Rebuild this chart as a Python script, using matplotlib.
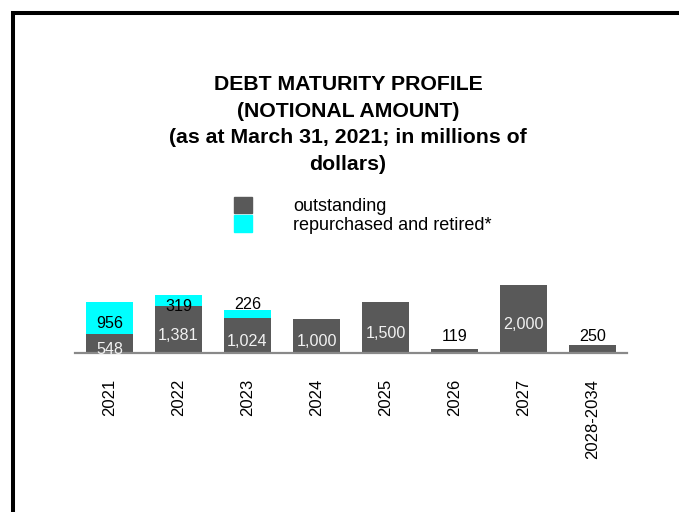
import matplotlib.pyplot as plt
from matplotlib.patches import Patch, Rectangle

plt.rcParams['font.family'] = ['Liberation Sans', 'DejaVu Sans']

years = ['2021', '2022', '2023', '2024', '2025', '2026', '2027', '2028-2034']
outstanding = [548, 1381, 1024, 1000, 1500, 119, 2000, 250]
retired = [956, 319, 226, 0, 0, 0, 0, 0]

title_lines = ['DEBT MATURITY PROFILE', '(NOTIONAL AMOUNT)',
               '(as at March 31, 2021; in millions of', 'dollars)']

dark = '#595959'
cyan = '#00ffff'

fig = plt.figure(figsize=(6.79, 5.12), dpi=100)

# open frame along the top and left edge
fig.add_artist(Rectangle((13 / 679, -0.2), 2, 1 - 13 / 512 + 0.2,
                         transform=fig.transFigure, fill=False,
                         lw=2.9, ec='black'))

# title, one line at a time
for i, line in enumerate(title_lines):
    fig.text(348 / 679, 1 - (90 + 26.7 * i) / 512, line, ha='center',
             va='baseline', fontsize=15.3, fontweight='bold')

ax = fig.add_axes([75 / 679, 159 / 512, 552 / 679, 68 / 512])
x = range(len(years))
ax.bar(x, outstanding, width=0.67, color=dark)
ax.bar(x, retired, width=0.67, bottom=outstanding, color=cyan)

ax.set_xlim(-0.5, 7.5)
ax.set_ylim(0, 2000)
ax.set_xticks(list(x))
ax.set_xticklabels(years, rotation=90, fontsize=12, va='top')
ax.tick_params(axis='x', length=0, pad=18.5)
ax.set_yticks([])
for s in ['top', 'left', 'right']:
    ax.spines[s].set_visible(False)
ax.spines['bottom'].set_color('#898989')
ax.spines['bottom'].set_linewidth(1.6)
ax.patch.set_visible(False)

# data labels: inside the segments, or above a bar too short to hold one
for i in x:
    o, r = outstanding[i], retired[i]
    if o >= 500:
        ax.annotate(f'{o:,}', (i, o / 2), xytext=(0, -7.4),
                    textcoords='offset points', ha='center', va='baseline',
                    fontsize=11.6, color='#f2f2f2')
    else:
        ax.annotate(f'{o:,}', (i, max(o + r, 294)), xytext=(0, 1.5),
                    textcoords='offset points', ha='center', va='baseline',
                    fontsize=11.6, color='black')
    if r >= 300:
        ax.annotate(f'{r:,}', (i, o + r / 2), xytext=(0, -7.4),
                    textcoords='offset points', ha='center', va='baseline',
                    fontsize=11.6, color='black')
    elif r > 0:
        ax.annotate(f'{r:,}', (i, o + r), xytext=(0, 1.2),
                    textcoords='offset points', ha='center', va='baseline',
                    fontsize=11.6, color='black')

handles = [Patch(color=dark), Patch(color=cyan)]
fig.legend(handles, ['outstanding', 'repurchased and retired*'],
           loc='upper left', bbox_to_anchor=(234 / 679, 1 - 197 / 512),
           frameon=False, fontsize=13, handlelength=1.02, handleheight=1.02,
           handletextpad=2.25, labelspacing=0.0, borderpad=0.0,
           borderaxespad=0.0)

fig.savefig('out.png', dpi=100)
